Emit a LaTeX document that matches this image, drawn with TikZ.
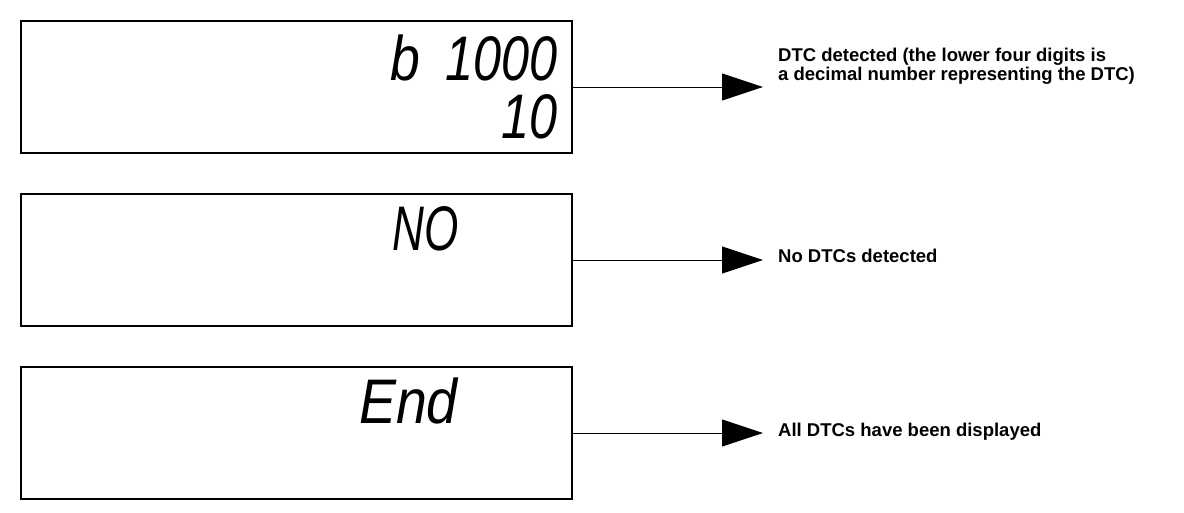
\documentclass[tikz,border=0pt]{standalone}
\usepackage{fontspec}
\usepackage{graphicx}
\setmainfont{Liberation Sans}
\newfontfamily\segfont{Liberation Sans}
\usetikzlibrary{arrows.meta}
\begin{document}
\begin{tikzpicture}[x=1pt,y=-1pt,
  lcd/.style={draw=black,line width=2pt,minimum width=551pt,minimum height=132pt,inner sep=0pt},
  seg/.style={inner sep=0pt,anchor=base east,font=\segfont\itshape\fontsize{63}{63}\selectfont},
  lbl/.style={inner sep=0pt,anchor=base west,align=left,font=\bfseries\fontsize{18.5}{11.5}\selectfont},
  conn/.style={line width=1pt,-{Triangle[length=41pt,width=27pt]}}]
\useasboundingbox (0,0) rectangle (1184,512);
\node[lcd] (b1) at (296.5,87) {};
\node[lcd] (b2) at (296.5,260) {};
\node[lcd] (b3) at (296.5,433) {};
\node[seg] (s1a) at (558,80) {\scalebox{0.85}[1]{b}\hspace{25pt}\scalebox{0.8}[1]{1000}};
\node[seg] (s1b) at (558,138) {\scalebox{0.8}[1]{10}};
\node[seg] (s2) at (459,250) {\scalebox{0.7}[1]{NO}};
\node[seg] (s3) at (458,423) {\scalebox{0.88}[1]{End}};
\coordinate (t1) at (763,87);
\coordinate (t2) at (763,260);
\coordinate (t3) at (763,433);
\draw[conn] (b1.east) -- (t1);
\draw[conn] (b2.east) -- (t2);
\draw[conn] (b3.east) -- (t3);
\node[lbl] (l1) at (778,80) {DTC detected (the lower four digits is\\a decimal number representing the DTC)};
\node[lbl] (l2) at (778,262) {No DTCs detected};
\node[lbl] (l3) at (778,436) {All DTCs have been displayed};
\end{tikzpicture}
\end{document}
